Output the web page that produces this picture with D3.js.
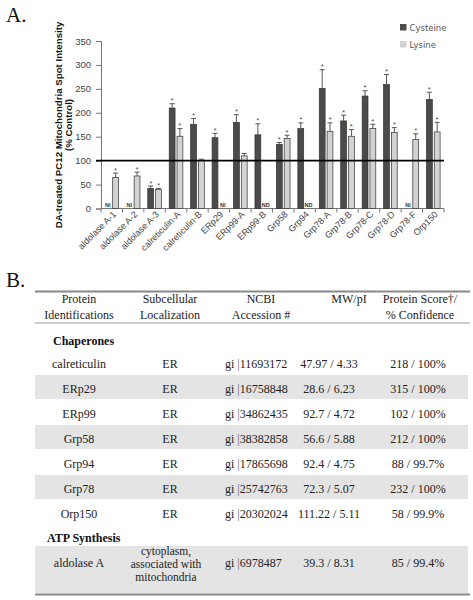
<!DOCTYPE html>
<html><head><meta charset="utf-8">
<script src="https://cdn.jsdelivr.net/npm/d3@7"></script>
<style>html,body{margin:0;padding:0;background:#fff;}svg{display:block;}</style>
</head><body>
<script>
// ---------- Chart data ----------
const categories = ["aldolase A-1","aldolase A-2","aldolase A-3","calreticulin-A","calreticulin-B","ERp29","ERp99-A","ERp99-B","Grp58","Grp94","Grp78-A","Grp78-B","Grp78-C","Grp78-D","Grp78-F","Orp150"];
const seriesNames = ["Cysteine","Lysine"];
const cysteine    = [null,null,42,210,176,148,180,154,134,167,251,183,235,259,null,228];
const cysteineErr = [null,null,5,9,12,9,16,23,4,12,39,12,11,21,null,15];
const lysine      = [65,68,40,151,100,null,110,null,146,null,161,151,167,159,144,160];
const lysineErr   = [9,8,2,16,3,null,5,null,7,null,18,14,9,10,12,20];
const cysteineSig = [0,0,1,1,1,1,1,1,1,1,1,1,1,1,0,1];
const lysineSig   = [1,1,1,1,0,0,0,0,1,0,1,1,1,1,1,1];
const cysteineNote= ["NI","NI","","","","","","","","","","","","","NI",""];
const lysineNote  = ["","","","","","NI","","ND","","ND","","","","","",""];
const yTicks = [0,50,100,150,200,250,300,350];
const refValue = 100;
const yTitle1 = "DA-treated PC12 Mitochondria Spot Intensity";
const yTitle2 = "(% Control)";

// ---------- Table data ----------
const headers = [["Protein","Identifications"],["Subcellular","Localization"],["NCBI","Accession #"],["MW/pI"],["Protein Score\u2020/","% Confidence"]];
const group1 = "Chaperones";
const g1Names = ["calreticulin","ERp29","ERp99","Grp58","Grp94","Grp78","Orp150"];
const g1Loc = ["ER","ER","ER","ER","ER","ER","ER"];
const g1Acc = ["11693172","16758848","34862435","38382858","17865698","25742763","20302024"];
const g1Mw = ["47.97 / 4.33","28.6 / 6.23","92.7 / 4.72","56.6 / 5.88","92.4 / 4.75","72.3 / 5.07","111.22 / 5.11"];
const g1Score = ["218 / 100%","315 / 100%","102 / 100%","212 / 100%","88 / 99.7%","232 / 100%","58 / 99.9%"];
const group2 = "ATP Synthesis";
const g2Name = "aldolase A";
const g2Loc = ["cytoplasm,","associated with","mitochondria"];
const g2Acc = "6978487";
const g2Mw = "39.3 / 8.31";
const g2Score = "85 / 99.4%";

const W = 473, H = 600;
const svg = d3.select("body").append("svg").attr("width",W).attr("height",H);
const sans = "'Liberation Sans', Arial, sans-serif";
const serif = "'Liberation Serif', 'Times New Roman', serif";

// Panel labels
svg.append("text").attr("x",6).attr("y",22).attr("font-family",serif).attr("font-size",21).attr("fill","#111").text("A.");
svg.append("text").attr("x",6).attr("y",287).attr("font-family",serif).attr("font-size",21).attr("fill","#111").text("B.");

// ---------- Chart ----------
const x0 = d3.scaleBand().domain(categories).range([101,444]).padding(0);
const x1 = d3.scaleBand().domain(seriesNames).range([0,x0.bandwidth()]).paddingInner(0.25).paddingOuter(0.5);
const y = d3.scaleLinear().domain([0,350]).range([208.5,41]);

const colors = {Cysteine:"#4b4b4b", Lysine:"#d3d3d3"};
const g = svg.append("g");

// y axis
const yAxis = d3.axisLeft(y).tickValues(yTicks).tickSize(5).tickPadding(5);
const ya = g.append("g").attr("transform","translate(101,0)").call(yAxis);
ya.select(".domain").attr("stroke","#777");
ya.selectAll(".tick line").attr("stroke","#777");
ya.selectAll(".tick text").attr("font-family",sans).attr("font-size",9.5).attr("fill","#444");

// x axis
const xa = g.append("g").attr("transform","translate(0,208.5)");
xa.append("line").attr("x1",101).attr("x2",444).attr("stroke","#777");
const bounds = categories.map(c=>x0(c)).concat([x0(categories[categories.length-1])+x0.bandwidth()]);
xa.selectAll("line.tk").data(bounds).enter().append("line").attr("class","tk")
  .attr("x1",d=>d).attr("x2",d=>d).attr("y1",0).attr("y2",4).attr("stroke","#777");
g.selectAll("text.xl").data(categories).enter().append("text").attr("class","xl")
  .attr("font-family",sans).attr("font-size",9).attr("fill","#444").attr("text-anchor","end")
  .attr("transform",d=>`translate(${x0(d)+x0.bandwidth()/2+5},215) rotate(-45)`)
  .text(d=>d);

// bars
const rows = categories.map((c,i)=>({c,i,
  vals:[{s:"Cysteine",v:cysteine[i],e:cysteineErr[i],sig:cysteineSig[i],note:cysteineNote[i]},
        {s:"Lysine",v:lysine[i],e:lysineErr[i],sig:lysineSig[i],note:lysineNote[i]}]}));
const grp = g.selectAll("g.cat").data(rows).enter().append("g").attr("class","cat")
  .attr("transform",d=>`translate(${x0(d.c)},0)`);
const items = grp.selectAll("g.it").data(d=>d.vals).enter().append("g").attr("class","it");
items.filter(d=>d.v!=null).append("rect")
  .attr("x",d=>x1(d.s)).attr("width",x1.bandwidth())
  .attr("y",d=>y(d.v)).attr("height",d=>y(0)-y(d.v))
  .attr("fill",d=>colors[d.s]).attr("stroke","#333").attr("stroke-width",0.7);
// error bars
items.filter(d=>d.v!=null && d.e!=null).append("line")
  .attr("x1",d=>x1(d.s)+x1.bandwidth()/2).attr("x2",d=>x1(d.s)+x1.bandwidth()/2)
  .attr("y1",d=>y(d.v)).attr("y2",d=>y(d.v+d.e)).attr("stroke","#555").attr("stroke-width",1);
items.filter(d=>d.v!=null && d.e!=null).append("line")
  .attr("x1",d=>x1(d.s)+x1.bandwidth()/2-2.5).attr("x2",d=>x1(d.s)+x1.bandwidth()/2+2.5)
  .attr("y1",d=>y(d.v+d.e)).attr("y2",d=>y(d.v+d.e)).attr("stroke","#555").attr("stroke-width",1);
// asterisks
items.filter(d=>d.v!=null && d.sig).append("text")
  .attr("x",d=>x1(d.s)+x1.bandwidth()/2).attr("y",d=>y(d.v+(d.e||0))-0.5)
  .attr("text-anchor","middle").attr("font-family",sans).attr("font-size",8).attr("fill","#555").text("*");
// NI / ND notes
items.filter(d=>d.note).append("text")
  .attr("x",d=>x1(d.s)+x1.bandwidth()/2).attr("y",206.5)
  .attr("text-anchor","middle").attr("font-family",sans).attr("font-size",5.5).attr("font-weight","bold").attr("fill","#333").text(d=>d.note);

// reference line
g.append("line").attr("x1",96).attr("x2",444).attr("y1",y(refValue)).attr("y2",y(refValue)).attr("stroke","#000").attr("stroke-width",1.6);

// y title
const yt = g.append("text").attr("font-family",sans).attr("font-size",9.7).attr("font-weight","bold").attr("fill","#111")
  .attr("text-anchor","middle").attr("transform",`translate(61.5,125) rotate(-90)`);
yt.append("tspan").attr("x",0).attr("dy",0).text(yTitle1);
yt.append("tspan").attr("x",0).attr("dy",10).text(yTitle2);

// legend
const leg = g.selectAll("g.leg").data(seriesNames).enter().append("g").attr("class","leg")
  .attr("transform",(d,i)=>`translate(400,${24+i*17})`);
leg.append("rect").attr("width",6.5).attr("height",6.5).attr("fill",d=>colors[d]);
leg.append("text").attr("x",9.5).attr("y",7).attr("font-family","'DejaVu Sans', sans-serif").attr("font-size",8.5).attr("fill","#555").text(d=>d);

// ---------- Table ----------
const t = svg.append("g").attr("font-family",serif).attr("font-size",12).attr("fill","#222");
const TL = 35, TR = 470;
const headerX = [79,170,261,349,420];
const colX = {name:79, loc:170, acc:225, mw:329, score:418};
// header
headers.forEach((h,i)=>{
  h.forEach((line,j)=>{
    t.append("text").attr("x",headerX[i]).attr("y",303+j*15.5).attr("text-anchor","middle").attr("fill","#222").text(line);
  });
});
// row shading
const rowBase = g1Names.map((d,i)=>368+25*i);
t.selectAll("rect.sh").data(g1Names.map((d,i)=>i).filter(i=>i%2===1)).enter().append("rect").attr("class","sh")
  .attr("x",TL).attr("width",TR-TL-2).attr("y",i=>rowBase[i]-18).attr("height",24).attr("fill","#e4e4e4");
t.append("rect").attr("x",TL).attr("width",TR-TL-2).attr("y",546).attr("height",47).attr("fill","#e4e4e4");
// rules
t.append("line").attr("x1",TL).attr("x2",TR).attr("y1",291.5).attr("y2",291.5).attr("stroke","#888").attr("stroke-width",2);
t.append("line").attr("x1",TL).attr("x2",TR).attr("y1",323).attr("y2",323).attr("stroke","#999").attr("stroke-width",1.2);
t.append("line").attr("x1",TL).attr("x2",TR).attr("y1",594.5).attr("y2",594.5).attr("stroke","#888").attr("stroke-width",2.2);
// group labels
t.append("text").attr("x",53).attr("y",345).attr("font-weight","bold").attr("fill","#111").text(group1);
t.append("text").attr("x",47).attr("y",542).attr("font-weight","bold").attr("fill","#111").text(group2);
// rows
g1Names.forEach((n,i)=>{
  const yb = rowBase[i];
  t.append("text").attr("x",colX.name).attr("y",yb).attr("text-anchor","middle").text(n);
  t.append("text").attr("x",colX.loc).attr("y",yb).attr("text-anchor","middle").text(g1Loc[i]);
  const a = t.append("text").attr("x",colX.acc).attr("y",yb);
  a.append("tspan").text("gi ");
  a.append("tspan").attr("fill","#666").text("|");
  a.append("tspan").text(g1Acc[i]);
  t.append("text").attr("x",colX.mw).attr("y",yb).attr("text-anchor","middle").text(g1Mw[i]);
  t.append("text").attr("x",colX.score).attr("y",yb).attr("text-anchor","middle").text(g1Score[i]);
});
const yb2 = 567;
t.append("text").attr("x",colX.name).attr("y",yb2).attr("text-anchor","middle").text(g2Name);
g2Loc.forEach((l,j)=>t.append("text").attr("x",166).attr("y",555+j*13).attr("text-anchor","middle").attr("font-size",11.5).text(l));
const a2 = t.append("text").attr("x",colX.acc).attr("y",yb2);
a2.append("tspan").text("gi ");
a2.append("tspan").attr("fill","#666").text("|");
a2.append("tspan").text(g2Acc);
t.append("text").attr("x",colX.mw).attr("y",yb2).attr("text-anchor","middle").text(g2Mw);
t.append("text").attr("x",colX.score).attr("y",yb2).attr("text-anchor","middle").text(g2Score);
</script>
</body></html>
